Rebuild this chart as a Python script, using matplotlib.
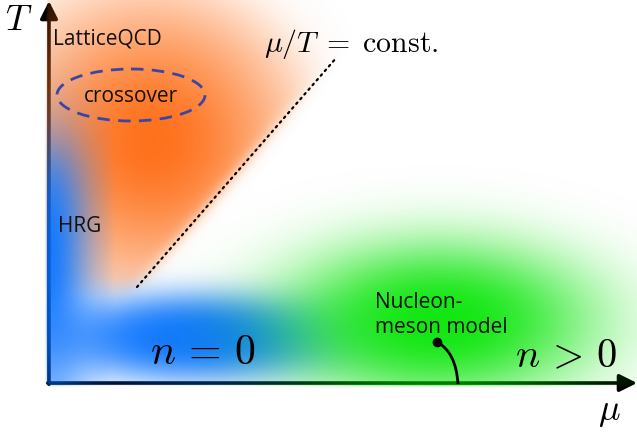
import numpy as np
import matplotlib
matplotlib.use("Agg")
import matplotlib.pyplot as plt
from matplotlib.patches import Ellipse, PathPatch
from matplotlib.path import Path

plt.rcParams["mathtext.fontset"] = "cm"

# ---- data (diagram coordinates, pixel-like units, y downward) ----
W, H = 637, 439
origin = (49, 384)
t_tip = (49, 2)
mu_tip = (637, 384)

# coloured regions: centre x, centre y, semi-axis x, semi-axis y, falloff k, sharpness p, colour
blob_names = ["LatticeQCD", "HRG strip", "n=0", "Nucleon-meson"]
blob_cx = [153, 49, 195, 438]
blob_cy = [142, 290, 338, 322]
blob_ax = [150, 55, 150, 200]
blob_ay = [150, 1e6, 45, 102]
blob_k = [1.0, 1.8, 1.0, 1.8]
blob_p = [1.0, 1.0, 1.5, 1.3]
blob_color = [(1.0, 0.40, 0.04), (0.0, 0.43, 1.0), (0.0, 0.43, 1.0), (0.0, 0.90, 0.0)]

const_line_x = [137, 337]
const_line_y = [288, 58]

crossover_center = (131, 96)
crossover_size = (148, 52)

nm_dot = (437, 343)
nm_ctrl = (456, 353)
nm_end = (458, 385)

sans_labels = ["LatticeQCD", "crossover", "HRG", "Nucleon-", "meson model"]
sans_x = [53, 131, 58, 375, 375]
sans_y = [39, 97, 227, 303, 328]
sans_ha = ["left", "center", "left", "left", "left"]

math_labels = [r"$T$", r"$\mu$", r"$\mu/T\;=\;\mathrm{const.}$", r"$n\,=\,0$", r"$n\,>\,0$"]
math_x = [19, 609, 351, 203, 566]
math_y = [20, 412, 44, 352, 356]
math_size = [26, 26, 21.5, 30, 29]

# ---- figure ----
fig = plt.figure(figsize=(W / 100, H / 100), dpi=100)
ax = fig.add_axes([0, 0, 1, 1])
ax.set_xlim(0, W)
ax.set_ylim(H, 0)
ax.axis("off")

# axes arrows (under the colour layer)
ax.annotate("", xy=t_tip, xytext=(origin[0], origin[1] + 1.2),
            arrowprops=dict(arrowstyle="-|>", lw=2.6, color="black", mutation_scale=26,
                            shrinkA=0, shrinkB=0), zorder=1)
ax.annotate("", xy=mu_tip, xytext=(origin[0] - 1.2, origin[1]),
            arrowprops=dict(arrowstyle="-|>", lw=2.6, color="black", mutation_scale=26,
                            shrinkA=0, shrinkB=0), zorder=1)

# colour layer
yy, xx = np.mgrid[0:H, 0:W] + 0.5


def sig(z):
    return 1.0 / (1.0 + np.exp(-z))


x1, x2 = const_line_x
y1, y2 = const_line_y
L = np.hypot(x2 - x1, y2 - y1)
dist = ((x2 - x1) * (yy - y1) - (y2 - y1) * (xx - x1)) / L
outer = np.hypot(xx - 140, yy - 160)

inside = sig((xx - 47) * 1.5) * sig((386 - yy) * 1.5)
masks = [
    sig(-dist / 4.0) * sig((293 - yy) / 6.0) * sig((195 - outer) / 18.0) * inside,
    sig((yy - 150) / 25.0) * sig((112 - xx) / 2.5) * (0.55 + 0.45 * sig((330 - yy) / 20.0)) * inside,
    inside,
    sig((387 - yy) * 1.5),
]

prem = np.zeros((H, W, 3))
alpha = np.zeros((H, W))
for cx, cy, a, b, k, p, col, m in zip(blob_cx, blob_cy, blob_ax, blob_ay, blob_k, blob_p,
                                       blob_color, masks):
    r2 = ((xx - cx) / a) ** 2 + ((yy - cy) / b) ** 2
    al = np.exp(-k * r2 ** p) * m
    prem = prem * (1 - al[..., None]) + np.array(col) * al[..., None]
    alpha = alpha * (1 - al) + al

rgba = np.zeros((H, W, 4))
rgba[..., :3] = np.where(alpha[..., None] > 1e-6, prem / np.maximum(alpha[..., None], 1e-6), 1)
rgba[..., 3] = np.clip(alpha, 0, 1) * 0.93
ax.imshow(rgba, extent=(0, W, H, 0), zorder=2, interpolation="bilinear")

# mu/T = const line
ax.plot(const_line_x, const_line_y, color="black", lw=1.6, ls=(0, (0.8, 2.0)),
        dash_capstyle="round", zorder=3)

# crossover ellipse
ax.add_patch(Ellipse(crossover_center, crossover_size[0], crossover_size[1], fill=False,
                     ec="#3a46a6", lw=2.0, ls=(0, (4.5, 3)), zorder=3))

# nucleon-meson pointer
path = Path([nm_dot, nm_ctrl, nm_end], [Path.MOVETO, Path.CURVE3, Path.CURVE3])
ax.add_patch(PathPatch(path, fill=False, lw=2.0, ec="black", zorder=3))
ax.plot([nm_dot[0]], [nm_dot[1]], "o", color="black", ms=6, zorder=4)

for s, x, y, ha in zip(sans_labels, sans_x, sans_y, sans_ha):
    ax.text(x, y, s, ha=ha, va="center", fontsize=15, family="Open Sans",
            color="#111111", zorder=5)

for s, x, y, fs in zip(math_labels, math_x, math_y, math_size):
    ax.text(x, y, s, ha="center", va="center", fontsize=fs, color="black", zorder=5)

fig.savefig("out.png", dpi=100)
